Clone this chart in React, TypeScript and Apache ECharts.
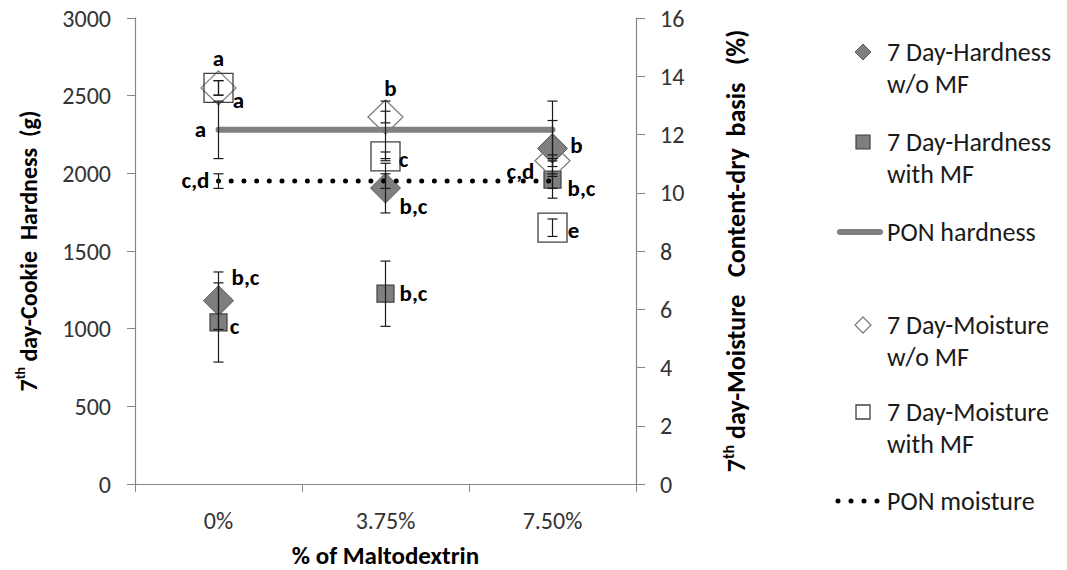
import React, { useEffect, useRef } from "react";
import * as echarts from "echarts";

const categories = ["0%", "3.75%", "7.50%"];

const hardnessWoMF = [1180, 1905, 2160];
const hardnessWoMFErr = [185, 160, 180];
const hardnessWoMFLetters = ["b,c", "b,c", "b"];

const hardnessWithMF = [1040, 1225, 1960];
const hardnessWithMFErr = [255, 210, 120];
const hardnessWithMFLetters = ["c", "b,c", "b,c"];

const ponHardness = [2280, 2280, 2280];
const ponHardnessErr = [185, 185, 185];
const ponHardnessLetters = ["a", "", ""];

const moistureWoMF = [13.6, 12.6, 11.1];
const moistureWoMFErr = [0.25, 0.2, 0.2];
const moistureWoMFLetters = ["a", "b", "c,d"];

const moistureWithMF = [13.6, 11.25, 8.8];
const moistureWithMFErr = [0.25, 0.15, 0.3];
const moistureWithMFLetters = ["a", "c", "e"];

const ponMoisture = [10.4, 10.4, 10.4];
const ponMoistureErr = [0.25, 0.25, 0.25];
const ponMoistureLetters = ["c,d", "", ""];

const legendNames = [
  "7 Day-Hardness\nw/o MF",
  "7 Day-Hardness\nwith MF",
  "PON hardness",
  "7 Day-Moisture\nw/o MF",
  "7 Day-Moisture\nwith MF",
  "PON moisture",
];

const FONT = 'Carlito, Lato, "Liberation Sans", sans-serif';
const DARK_FILL = "#7f7f7f";
const DARK_BORDER = "#5a5a5a";

function withLabels(values: number[], letters: string[], offsets: number[][]) {
  return values.map((v, i) => ({
    value: v,
    label: letters[i]
      ? {
          show: true,
          formatter: letters[i],
          position: "inside",
          offset: offsets[i],
          align: "center",
          verticalAlign: "middle",
          color: "#000",
          fontFamily: FONT,
          fontWeight: "bold",
          fontSize: 23,
        }
      : { show: false },
  }));
}

function errSeries(values: number[], errs: number[], yAxisIndex: number) {
  return {
    type: "custom",
    yAxisIndex,
    z: 8,
    silent: true,
    data: values.map((v, i) => [i, v, errs[i]]),
    encode: { x: 0, y: 1 },
    renderItem: (params: any, api: any) => {
      const x = api.value(0);
      const y = api.value(1);
      const e = api.value(2);
      const top = api.coord([x, y + e]);
      const bot = api.coord([x, y - e]);
      const w = 5;
      const st = { stroke: "#1a1a1a", lineWidth: 1.2 };
      return {
        type: "group",
        children: [
          { type: "line", shape: { x1: top[0], y1: top[1], x2: bot[0], y2: bot[1] }, style: st },
          { type: "line", shape: { x1: top[0] - w, y1: top[1], x2: top[0] + w, y2: top[1] }, style: st },
          { type: "line", shape: { x1: bot[0] - w, y1: bot[1], x2: bot[0] + w, y2: bot[1] }, style: st },
        ],
      };
    },
  };
}

export default function App() {
  const ref = useRef<HTMLDivElement>(null);
  useEffect(() => {
    if (!ref.current) return;
    const chart = echarts.init(ref.current, null, { renderer: "svg" });
    const axisColor = "#868686";
    const tickLabel = { color: "#333", fontFamily: FONT, fontSize: 24, formatter: (v: any) => String(v) };
    const titleStyle = (size: number) => ({
      color: "#000",
      fontFamily: FONT,
      fontWeight: "bold",
      fontSize: size,
      lineHeight: size + 6,
      rich: {
        sup: {
          fontFamily: FONT,
          fontWeight: "bold",
          fontSize: Math.round(size * 0.6),
          verticalAlign: "top",
          lineHeight: size + 6,
          color: "#000",
        },
      },
    });
    const legendText = { fontFamily: FONT, fontSize: 26, fill: "#1a1a1a" };

    const option: any = {
      animation: false,
      backgroundColor: "#fff",
      grid: { left: 135, right: 431, top: 18, bottom: 86, outerBoundsMode: "none" },
      xAxis: {
        type: "category",
        data: categories,
        name: "% of Maltodextrin",
        nameLocation: "middle",
        nameGap: 56,
        nameTextStyle: titleStyle(25),
        axisLine: { lineStyle: { color: axisColor, width: 1.2 } },
        axisTick: { show: true, length: 8, lineStyle: { color: axisColor } },
        axisLabel: { color: "#333", fontFamily: FONT, fontSize: 24, margin: 24 },
      },
      yAxis: [
        {
          type: "value",
          min: 0,
          max: 3000,
          interval: 500,
          position: "left",
          name: "7{sup|th} day-Cookie  Hardness  (g)",
          nameLocation: "middle",
          nameRotate: 90,
          nameGap: 92,
          nameTextStyle: titleStyle(24),
          axisLine: { show: true, lineStyle: { color: axisColor, width: 1.2 } },
          axisTick: { show: true, length: 8, lineStyle: { color: axisColor } },
          axisLabel: { ...tickLabel, margin: 24 },
          splitLine: { show: false },
        },
        {
          type: "value",
          min: 0,
          max: 16,
          interval: 2,
          position: "right",
          name: "7{sup|th} day-Moisture   Content-dry  basis   (%)",
          nameLocation: "middle",
          nameRotate: 90,
          nameGap: 84,
          nameTextStyle: titleStyle(26),
          axisLine: { show: true, lineStyle: { color: axisColor, width: 1.2 } },
          axisTick: { show: true, length: 9, lineStyle: { color: axisColor } },
          axisLabel: { ...tickLabel, margin: 24 },
          splitLine: { show: false },
        },
      ],
      series: [
        {
          name: legendNames[2],
          type: "line",
          yAxisIndex: 0,
          z: 2,
          showSymbol: true,
          symbol: "circle",
          symbolSize: 1,
          itemStyle: { color: "#808080" },
          lineStyle: { color: "#808080", width: 6, cap: "round" },
          data: withLabels(ponHardness, ponHardnessLetters, [[-18, -1], [0, 0], [0, 0]]),
        },
        {
          name: legendNames[0],
          type: "scatter",
          yAxisIndex: 0,
          z: 3,
          symbol: "diamond",
          symbolSize: [30, 30],
          itemStyle: { color: DARK_FILL, borderColor: DARK_BORDER, borderWidth: 1, opacity: 1 },
          data: withLabels(hardnessWoMF, hardnessWoMFLetters, [[27, -24], [28, 18], [24, -3]]),
        },
        {
          name: legendNames[1],
          type: "scatter",
          yAxisIndex: 0,
          z: 3,
          symbol: "rect",
          symbolSize: 17,
          itemStyle: { color: DARK_FILL, borderColor: "#404040", borderWidth: 1.2, opacity: 1 },
          data: withLabels(hardnessWithMF, hardnessWithMFLetters, [[16, 4], [28, -1], [29, 8]]),
        },
        {
          name: legendNames[3],
          type: "scatter",
          yAxisIndex: 1,
          z: 4,
          symbol: "diamond",
          symbolSize: [35, 34],
          itemStyle: { color: "rgba(255,255,255,0)", borderColor: "#7f7f7f", borderWidth: 1.3, opacity: 1 },
          data: withLabels(moistureWoMF, moistureWoMFLetters, [[0, -30], [5, -29], [-32, 10]]),
        },
        {
          name: legendNames[4],
          type: "scatter",
          yAxisIndex: 1,
          z: 4,
          symbol: "rect",
          symbolSize: 29,
          itemStyle: { color: "rgba(255,255,255,0)", borderColor: "#404040", borderWidth: 1.3, opacity: 1 },
          data: withLabels(moistureWithMF, moistureWithMFLetters, [[20, 12], [18, 3], [21, 2]]),
        },
        {
          name: legendNames[5],
          type: "line",
          yAxisIndex: 1,
          z: 7,
          showSymbol: true,
          symbol: "circle",
          symbolSize: 1,
          itemStyle: { color: "#000" },
          lineStyle: { color: "#000", width: 5, type: [0, 12.7], cap: "round" },
          data: withLabels(ponMoisture, ponMoistureLetters, [[-23, -1], [0, 0], [0, 0]]),
        },
        errSeries(ponHardness, ponHardnessErr, 0),
        errSeries(hardnessWoMF, hardnessWoMFErr, 0),
        errSeries(hardnessWithMF, hardnessWithMFErr, 0),
        errSeries(moistureWoMF, moistureWoMFErr, 1),
        errSeries(moistureWithMF, moistureWithMFErr, 1),
        errSeries(ponMoisture, ponMoistureErr, 1),
      ],
      graphic: [
        { type: "polygon", shape: { points: [[863, 44], [871, 52], [863, 60], [855, 52]] }, style: { fill: DARK_FILL, stroke: DARK_BORDER, lineWidth: 1 } },
        { type: "text", x: 887, y: 36, style: { ...legendText, text: legendNames[0], lineHeight: 32, verticalAlign: "top" } },
        { type: "rect", shape: { x: 856, y: 135, width: 14, height: 14 }, style: { fill: DARK_FILL, stroke: "#404040", lineWidth: 1.2 } },
        { type: "text", x: 887, y: 126, style: { ...legendText, text: legendNames[1], lineHeight: 32, verticalAlign: "top" } },
        { type: "line", shape: { x1: 840, y1: 232, x2: 880, y2: 232 }, style: { stroke: "#808080", lineWidth: 6, lineCap: "round" } },
        { type: "text", x: 887, y: 232, style: { ...legendText, text: legendNames[2], verticalAlign: "middle" } },
        { type: "polygon", shape: { points: [[863, 317], [871, 325], [863, 333], [855, 325]] }, style: { fill: "none", stroke: "#7f7f7f", lineWidth: 1.3 } },
        { type: "text", x: 887, y: 309, style: { ...legendText, text: legendNames[3], lineHeight: 32, verticalAlign: "top" } },
        { type: "rect", shape: { x: 856, y: 405, width: 14, height: 14 }, style: { fill: "none", stroke: "#404040", lineWidth: 1.3 } },
        { type: "text", x: 887, y: 396, style: { ...legendText, text: legendNames[4], lineHeight: 32, verticalAlign: "top" } },
        { type: "line", shape: { x1: 838, y1: 501, x2: 880, y2: 501 }, style: { stroke: "#000", lineWidth: 5, lineCap: "round", lineDash: [0, 13] } },
        { type: "text", x: 887, y: 501, style: { ...legendText, text: legendNames[5], verticalAlign: "middle" } },
      ],
    };
    chart.setOption(option);
    return () => chart.dispose();
  }, []);
  return (
    <div
      ref={ref}
      style={{ position: "fixed", left: 0, top: 0, width: 1067, height: 570, background: "#fff" }}
    />
  );
}
